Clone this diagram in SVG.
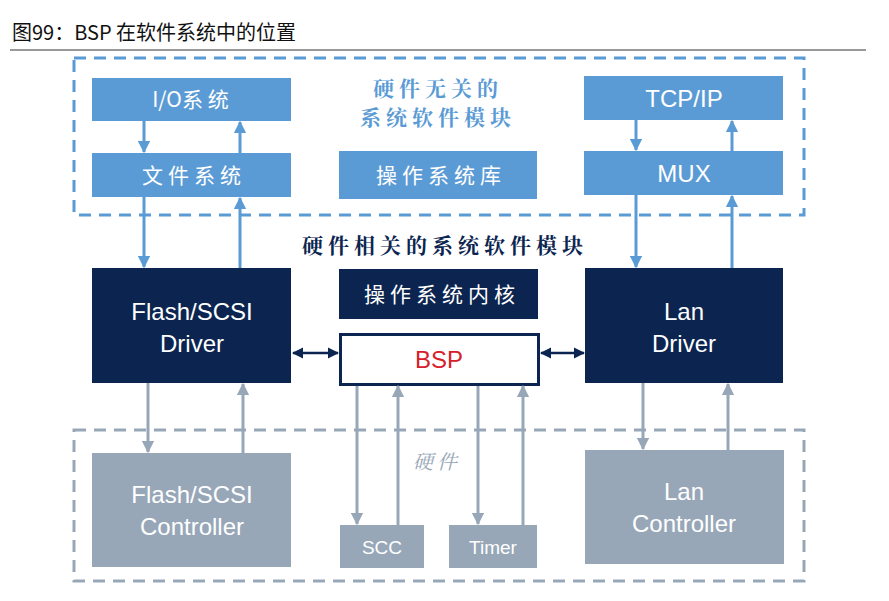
<svg xmlns="http://www.w3.org/2000/svg" width="889" height="601" viewBox="0 0 889 601">
<defs>
<style>
.blue{fill:#5b9bd5}
.navy{fill:#0b2550}
.gray{fill:#97a7b8}
.wt{fill:#fff;font-family:"Liberation Sans","Noto Sans CJK SC",sans-serif;text-anchor:middle}
.cj{fill:#fff;font-family:"Noto Sans CJK SC",sans-serif;text-anchor:middle;font-size:21px;letter-spacing:5px}
.hd{font-family:"Noto Serif CJK SC","Noto Sans CJK SC",serif;font-weight:bold;font-size:21px;text-anchor:middle;letter-spacing:5px}
.ab{stroke:#5b9bd5;stroke-width:3;fill:none}
.ag{stroke:#97a7b8;stroke-width:3;fill:none}
</style>
<marker id="hb" viewBox="0 0 10 10" refX="9" refY="5" markerWidth="4.2" markerHeight="4.2" orient="auto" markerUnits="strokeWidth"><path d="M0,0L10,5L0,10z" fill="#5b9bd5"/></marker>
<marker id="hg" viewBox="0 0 10 10" refX="9" refY="5" markerWidth="4.2" markerHeight="4.2" orient="auto" markerUnits="strokeWidth"><path d="M0,0L10,5L0,10z" fill="#97a7b8"/></marker>
<marker id="hn" viewBox="0 0 10 10" refX="9" refY="5" markerWidth="4.5" markerHeight="4.5" orient="auto-start-reverse" markerUnits="strokeWidth"><path d="M0,0L10,5L0,10z" fill="#0b2550"/></marker>
</defs>
<rect width="889" height="601" fill="#fff"/>
<g id="title">
<text x="12" y="40" font-family="Noto Sans CJK SC,sans-serif" font-size="20" fill="#111" textLength="284" lengthAdjust="spacingAndGlyphs">图99：BSP 在软件系统中的位置</text>
<line x1="10" y1="50" x2="866" y2="50" stroke="#777" stroke-width="1.5"/>
</g>
<g id="top-group">
<rect x="74" y="58" width="730" height="157" fill="none" stroke="#5b9bd5" stroke-width="3" stroke-dasharray="12,8"/>
<text class="hd" x="438" y="96" fill="#5b9bd5">硬件无关的</text>
<text class="hd" x="438" y="125" fill="#5b9bd5">系统软件模块</text>
</g>
<g id="io"><rect class="blue" x="92" y="78" width="199" height="43"/><text class="cj" x="193" y="107"><tspan letter-spacing="0">I/O</tspan>系统</text></g>
<g id="fs"><rect class="blue" x="92" y="153" width="199" height="44"/><text class="cj" x="194" y="183">文件系统</text></g>
<g id="oslib"><rect class="blue" x="339" y="151" width="198" height="48"/><text class="cj" x="441" y="183">操作系统库</text></g>
<g id="tcp"><rect class="blue" x="584" y="76" width="199" height="44"/><text class="wt" x="684" y="107" font-size="24">TCP/IP</text></g>
<g id="mux"><rect class="blue" x="584" y="151" width="199" height="44"/><text class="wt" x="684" y="182" font-size="24">MUX</text></g>
<g id="hwdep-label"><text class="hd" x="445" y="253" fill="#0b2550">硬件相关的系统软件模块</text></g>
<g id="flashdrv"><rect class="navy" x="92" y="268" width="199" height="115"/><text class="wt" x="192" y="320" font-size="24">Flash/SCSI</text><text class="wt" x="192" y="352" font-size="24">Driver</text></g>
<g id="kernel"><rect class="navy" x="339" y="269" width="199" height="50"/><text class="cj" x="442" y="302">操作系统内核</text></g>
<g id="bsp"><rect x="340.5" y="334.5" width="198" height="50" fill="#fff" stroke="#0b2550" stroke-width="3"/><text x="439" y="368" font-family="Liberation Sans,sans-serif" font-size="24" fill="#d7202a" text-anchor="middle">BSP</text></g>
<g id="landrv"><rect class="navy" x="585" y="268" width="198" height="115"/><text class="wt" x="684" y="320" font-size="24">Lan</text><text class="wt" x="684" y="352" font-size="24">Driver</text></g>
<g id="hw-group">
<rect x="74" y="430" width="730" height="151" fill="none" stroke="#97a7b8" stroke-width="3" stroke-dasharray="12,8"/>
<text x="437" y="469" font-family="Noto Serif CJK SC,Noto Sans CJK SC,serif" font-style="italic" font-size="20" fill="#97a7b8" text-anchor="middle" letter-spacing="4">硬件</text>
</g>
<g id="flashctl"><rect class="gray" x="92" y="453" width="199" height="114"/><text class="wt" x="192" y="503" font-size="24">Flash/SCSI</text><text class="wt" x="192" y="535" font-size="24">Controller</text></g>
<g id="scc"><rect class="gray" x="340" y="525" width="84" height="43"/><text class="wt" x="382" y="554" font-size="19">SCC</text></g>
<g id="timer"><rect class="gray" x="449" y="525" width="88" height="43"/><text class="wt" x="493" y="554" font-size="19">Timer</text></g>
<g id="lanctl"><rect class="gray" x="585" y="450" width="199" height="114"/><text class="wt" x="684" y="500" font-size="24">Lan</text><text class="wt" x="684" y="532" font-size="24">Controller</text></g>
<g id="connectors">
<line class="ab" x1="144" y1="121" x2="144" y2="152" marker-end="url(#hb)"/>
<line class="ab" x1="240" y1="153" x2="240" y2="122" marker-end="url(#hb)"/>
<line class="ab" x1="636" y1="120" x2="636" y2="150" marker-end="url(#hb)"/>
<line class="ab" x1="732" y1="151" x2="732" y2="121" marker-end="url(#hb)"/>
<line class="ab" x1="144" y1="197" x2="144" y2="267" marker-end="url(#hb)"/>
<line class="ab" x1="240" y1="268" x2="240" y2="198" marker-end="url(#hb)"/>
<line class="ab" x1="636" y1="195" x2="636" y2="267" marker-end="url(#hb)"/>
<line class="ab" x1="732" y1="268" x2="732" y2="196" marker-end="url(#hb)"/>
<line x1="293" y1="353" x2="338" y2="353" stroke="#0b2550" stroke-width="2.5" marker-start="url(#hn)" marker-end="url(#hn)"/>
<line x1="541" y1="353" x2="584" y2="353" stroke="#0b2550" stroke-width="2.5" marker-start="url(#hn)" marker-end="url(#hn)"/>
<line class="ag" x1="148" y1="383" x2="148" y2="452" marker-end="url(#hg)"/>
<line class="ag" x1="243" y1="453" x2="243" y2="384" marker-end="url(#hg)"/>
<line class="ag" x1="643" y1="383" x2="643" y2="449" marker-end="url(#hg)"/>
<line class="ag" x1="728" y1="450" x2="728" y2="384" marker-end="url(#hg)"/>
<line class="ag" x1="357" y1="386" x2="357" y2="524" marker-end="url(#hg)"/>
<line class="ag" x1="398" y1="525" x2="398" y2="386" marker-end="url(#hg)"/>
<line class="ag" x1="478" y1="386" x2="478" y2="524" marker-end="url(#hg)"/>
<line class="ag" x1="523" y1="525" x2="523" y2="386" marker-end="url(#hg)"/>
</g>
</svg>
